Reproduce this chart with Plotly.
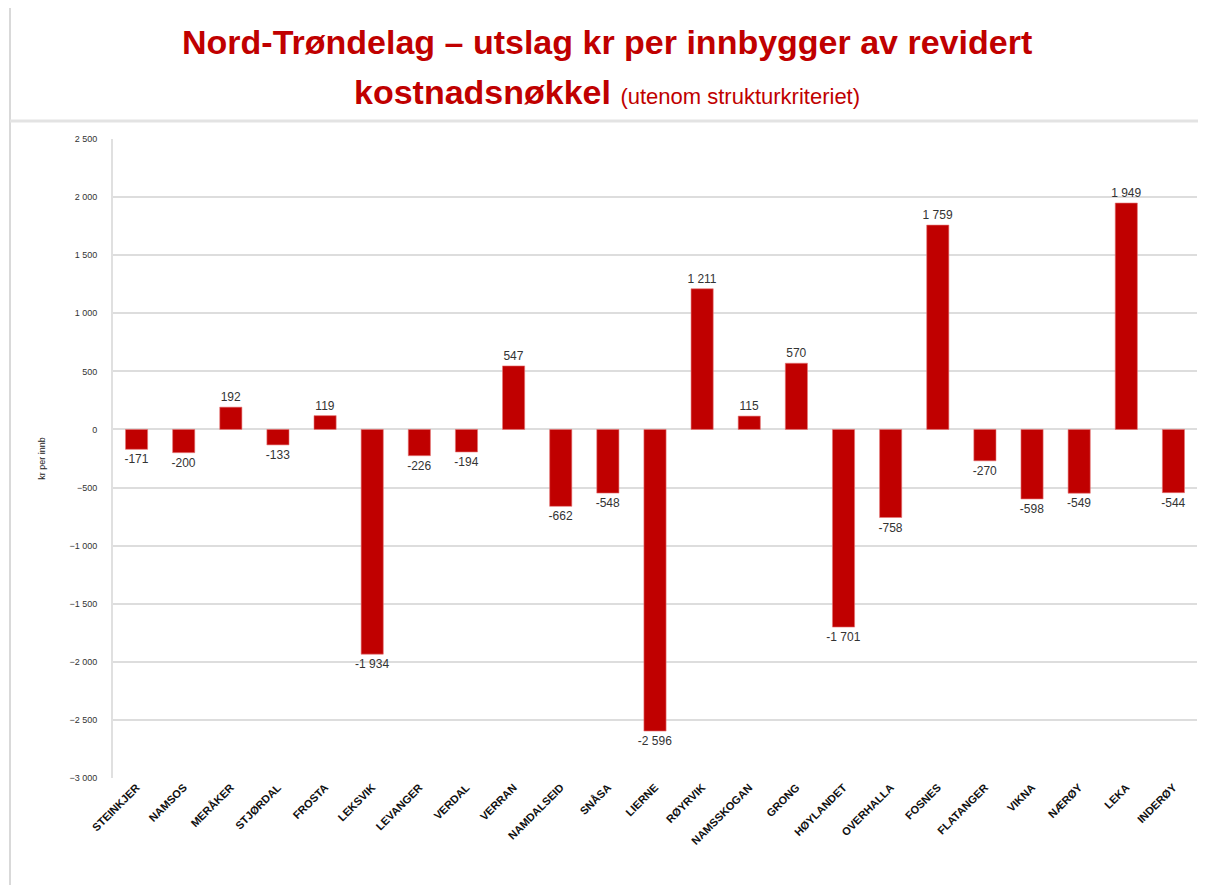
import plotly.graph_objects as go

kommuner = ["STEINKJER", "NAMSOS", "MERÅKER", "STJØRDAL", "FROSTA", "LEKSVIK", "LEVANGER",
            "VERDAL", "VERRAN", "NAMDALSEID", "SNÅSA", "LIERNE", "RØYRVIK", "NAMSSKOGAN",
            "GRONG", "HØYLANDET", "OVERHALLA", "FOSNES", "FLATANGER", "VIKNA", "NÆRØY",
            "LEKA", "INDERØY"]
utslag = [-171, -200, 192, -133, 119, -1934, -226, -194, 547, -662, -548, -2596, 1211, 115,
          570, -1701, -758, 1759, -270, -598, -549, 1949, -544]
y_ticks = [2500, 2000, 1500, 1000, 500, 0, -500, -1000, -1500, -2000, -2500, -3000]

OFF = 8  # page body margin
W, H = 1206, 885
L, R, T, B = 113 - OFF, 17, 139 - OFF, 885 - (778 - OFF)
pw, ph = W - L - R, H - T - B

def px_x(p):
    return (p - OFF - L) / pw

def px_y(p):
    return (H - B - (p - OFF)) / ph

FONT = "Liberation Sans, Arial, sans-serif"

fig = go.Figure()
fig.add_trace(go.Bar(
    x=kommuner, y=utslag,
    marker=dict(color="#C00000", line=dict(color="rgba(230,120,120,0.6)", width=1)),
    texttemplate="%{y:,.0f}", textposition="outside", constraintext="none",
    textfont=dict(family=FONT, size=12, color="#333333"),
    cliponaxis=False,
))

fig.update_layout(
    width=W, height=H,
    margin=dict(l=L, r=R, t=T, b=B, autoexpand=False),
    paper_bgcolor="white", plot_bgcolor="white",
    separators=", ",
    bargap=0.53,
    showlegend=False,
    font=dict(family=FONT, color="#222"),
)
fig.update_xaxes(
    tickangle=-45, showgrid=False, showline=False, ticks="", automargin=False,
    tickfont=dict(size=11, color="#111", family=FONT, weight="bold"),
)
fig.update_yaxes(
    range=[-3000, 2500], tickvals=y_ticks, tickformat=",.0f", automargin=False,
    showgrid=True, gridcolor="#DDDDDD", gridwidth=2,
    zeroline=True, zerolinecolor="#DDDDDD", zerolinewidth=2,
    showline=True, linecolor="#E0E0E0", linewidth=2,
    ticks="", ticklabelstandoff=12,
    tickfont=dict(size=9, color="#333"),
    title=dict(text="kr per innb", font=dict(size=9, color="#222"), standoff=22),
)

# frame lines
fig.add_shape(type="line", xref="paper", yref="paper", x0=px_x(10), x1=px_x(10),
              y0=px_y(OFF), y1=px_y(H + OFF), line=dict(color="#D9D9D9", width=2))
fig.add_shape(type="line", xref="paper", yref="paper", x0=px_x(10), x1=px_x(W + OFF),
              y0=px_y(121), y1=px_y(121), line=dict(color="#E3E3E3", width=3))

fig.add_annotation(xref="paper", yref="paper", x=px_x(607), y=px_y(42),
                   text="<b>Nord-Trøndelag – utslag kr per innbygger av revidert</b>",
                   showarrow=False, xanchor="center", yanchor="middle",
                   font=dict(family=FONT, size=34, color="#C00000"))
fig.add_annotation(xref="paper", yref="paper", x=px_x(607), y=px_y(92),
                   text="<b>kostnadsnøkkel</b> <span style='font-size:22px'>(utenom strukturkriteriet)</span>",
                   showarrow=False, xanchor="center", yanchor="middle",
                   font=dict(family=FONT, size=34, color="#C00000"))

fig.write_html("out.html")
